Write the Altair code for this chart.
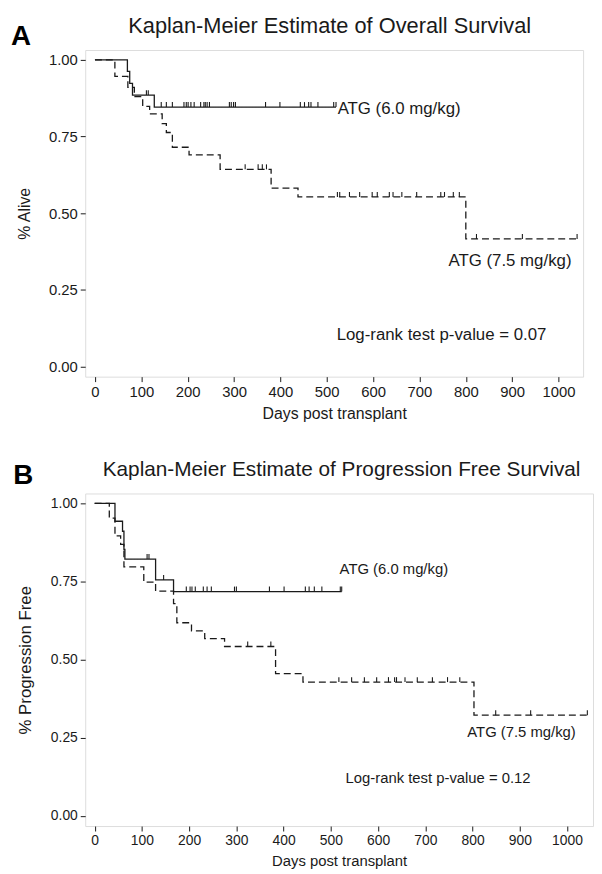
import altair as alt
import pandas as pd

FONT = "Liberation Sans"
INK = "#1a1a1a"

# ---------------- Panel A : Overall survival ----------------
A_lo_time = [0, 70, 75, 81, 128]
A_lo_surv = [1.0, 0.962, 0.923, 0.885, 0.846]
A_lo_end = 520
A_lo_cens = [111, 115, 143, 154, 167, 192, 197, 201, 207, 214, 228, 235, 238,
             242, 247, 290, 294, 299, 303, 368, 399, 443, 452, 461, 466, 481,
             515, 520]

A_hi_time = [0, 43, 71, 85, 103, 118, 145, 154, 167, 203, 270, 380, 438, 800]
A_hi_surv = [1.0, 0.946, 0.91, 0.88, 0.848, 0.824, 0.792, 0.763, 0.715, 0.69,
             0.643, 0.582, 0.553, 0.416]
A_hi_end = 1040
A_hi_cens = [324, 352, 361, 370, 523, 528, 549, 571, 598, 609, 635, 643, 662,
             694, 746, 754, 773, 786, 823, 922, 1040]

# ---------------- Panel B : Progression free survival ----------------
B_lo_time = [0, 43, 59, 62, 64, 129, 167]
B_lo_surv = [1.0, 0.943, 0.911, 0.853, 0.822, 0.755, 0.718]
B_lo_end = 523
B_lo_cens = [111, 115, 146, 194, 202, 206, 213, 230, 238, 247, 296, 300, 370,
             401, 446, 454, 465, 481, 520, 523]

B_hi_time = [0, 31, 43, 55, 62, 104, 129, 167, 174, 205, 233, 275, 383, 441, 803]
B_hi_surv = [1.0, 0.953, 0.896, 0.869, 0.797, 0.748, 0.719, 0.679, 0.618,
             0.592, 0.567, 0.542, 0.455, 0.428, 0.322]
B_hi_end = 1043
B_hi_cens = [324, 373, 517, 544, 571, 597, 622, 635, 639, 657, 683, 715, 747,
             773, 849, 923, 1043]

GROUPS = ["ATG (6.0 mg/kg)", "ATG (7.5 mg/kg)"]
X_TICKS = list(range(0, 1001, 100))
Y_TICKS = [0.0, 0.25, 0.5, 0.75, 1.0]


def step_val(times, survs, t):
    v = survs[0]
    for ti, si in zip(times, survs):
        if ti <= t:
            v = si
    return v


def curve_df(times, survs, end, grp):
    rows = [{"t": t, "s": s, "grp": grp} for t, s in zip(times, survs)]
    rows.append({"t": end, "s": survs[-1], "grp": grp})
    return rows


def cens_df(times, survs, cens, grp):
    return [{"t": c, "s": step_val(times, survs, c), "grp": grp} for c in cens]


def panel(lo, hi, xdom, w, h, title, title_fs, title_x, title_y, letter,
          letter_x, letter_y, ytitle, notes, note_fs, lab_fs, xt_fs, yt_fs,
          ytitle_pad):
    lines = pd.DataFrame(curve_df(*lo[:3], GROUPS[0]) + curve_df(*hi[:3], GROUPS[1]))
    cens = pd.DataFrame(cens_df(lo[0], lo[1], lo[3], GROUPS[0]) +
                        cens_df(hi[0], hi[1], hi[3], GROUPS[1]))
    xs = alt.Scale(domain=xdom, nice=False, zero=False)
    ys = alt.Scale(domain=[-0.033, 1.032], nice=False, zero=False)
    xax = alt.Axis(values=X_TICKS, format="d", title="Days post transplant",
                   grid=False, domain=False, tickSize=5, tickColor=INK,
                   labelFontSize=lab_fs, labelFont=FONT, labelColor=INK,
                   titleFont=FONT, titleFontSize=xt_fs, titleFontWeight="normal",
                   titleColor=INK, labelPadding=3, titlePadding=6, labelFlush=False)
    yax = alt.Axis(values=Y_TICKS, format=".2f", title=ytitle, grid=False,
                   domain=False, tickSize=5, tickColor=INK, labelFontSize=lab_fs,
                   labelFont=FONT, labelColor=INK, titleFont=FONT,
                   titleFontSize=yt_fs, titleFontWeight="normal", titleColor=INK,
                   labelPadding=3, titlePadding=ytitle_pad, labelFlush=False)
    curve = alt.Chart(lines).mark_line(
        interpolate="step-after", strokeWidth=1.3, color=INK
    ).encode(
        x=alt.X("t:Q", scale=xs, axis=xax),
        y=alt.Y("s:Q", scale=ys, axis=yax),
        strokeDash=alt.StrokeDash("grp:N", scale=alt.Scale(domain=GROUPS, range=[[1, 0], [7, 4]]), legend=None),
        detail="grp:N",
    )
    ticks = alt.Chart(cens).mark_tick(
        orient="vertical", size=5, thickness=1.1, yOffset=-2.5, color=INK, opacity=1
    ).encode(x=alt.X("t:Q", scale=xs), y=alt.Y("s:Q", scale=ys))

    one = pd.DataFrame({"k": [0]})
    layers = [curve, ticks]
    layers.append(alt.Chart(one).mark_text(
        text=title, font=FONT, fontSize=title_fs, color=INK, align="center",
        baseline="alphabetic").encode(x=alt.value(title_x), y=alt.value(title_y)))
    layers.append(alt.Chart(one).mark_text(
        text=letter, font=FONT, fontSize=28, fontWeight="bold", color="#000",
        align="left", baseline="alphabetic").encode(x=alt.value(letter_x), y=alt.value(letter_y)))
    for txt, nx, ny in notes:
        layers.append(alt.Chart(one).mark_text(
            text=txt, font=FONT, fontSize=note_fs, color=INK, align="left",
            baseline="middle").encode(x=alt.value(nx), y=alt.value(ny)))
    return alt.layer(*layers).properties(width=w, height=h)


panel_a = panel(
    (A_lo_time, A_lo_surv, A_lo_end, A_lo_cens),
    (A_hi_time, A_hi_surv, A_hi_end, A_hi_cens),
    [-21, 1053], 503, 330,
    "Kaplan-Meier Estimate of Overall Survival", 22, 247, -17,
    "A", -75, -5, "% Alive",
    [("ATG (6.0 mg/kg)", 255, 60), ("ATG (7.5 mg/kg)", 367, 213),
     ("Log-rank test p-value = 0.07", 254, 288)],
    17, 15, 16, 16, 16,
)

panel_b = panel(
    (B_lo_time, B_lo_surv, B_lo_end, B_lo_cens),
    (B_hi_time, B_hi_surv, B_hi_end, B_hi_cens),
    [-20, 1055], 513, 336,
    "Kaplan-Meier Estimate of Progression Free Survival", 21, 259, -18,
    "B", -72.7, -10, "% Progression Free",
    [("ATG (6.0 mg/kg)", 257, 76), ("ATG (7.5 mg/kg)", 386, 241),
     ("Log-rank test p-value = 0.12", 263, 288)],
    15, 14, 15, 17, 16,
)

chart = alt.vconcat(panel_a, panel_b, spacing=36).properties(
    padding={"left": 2, "top": 2, "right": 0, "bottom": 0}
).configure_view(stroke=INK, strokeWidth=1.5).configure(background="white")

chart.save("out.html", embed_options={"renderer": "svg", "actions": False})
